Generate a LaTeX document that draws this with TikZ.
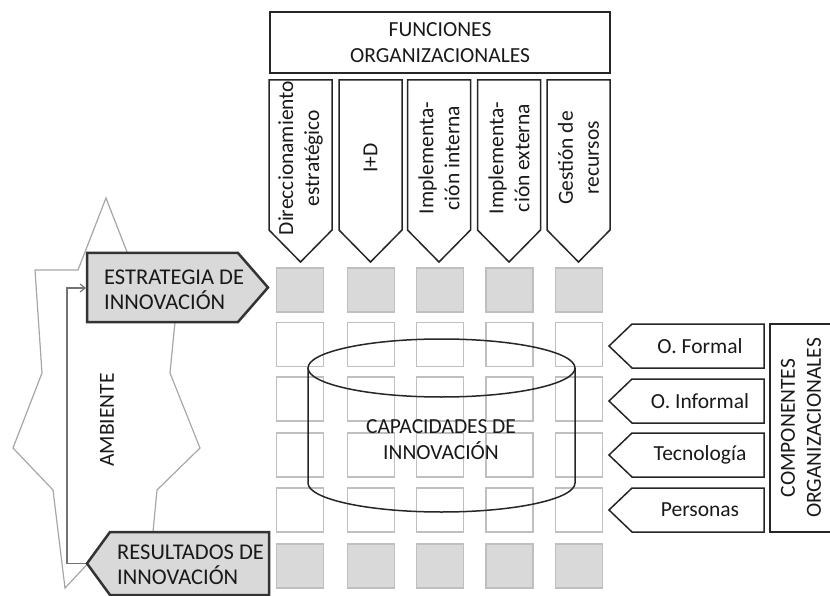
\documentclass[tikz,border=0pt]{standalone}
\usepackage{fontspec}
\setmainfont{Carlito}
\usetikzlibrary{arrows.meta}
\begin{document}
\begin{tikzpicture}[x=1pt,y=-1pt,
  every node/.style={font=\fontsize{21.5}{26}\selectfont, text=black!90, inner sep=0pt},
  big/.style={font=\fontsize{22.5}{25}\selectfont},
  blk/.style={draw=black!85, line width=1.5pt, line join=miter},
  sq/.style={draw=black!25, line width=1.5pt, fill=white},
  sqf/.style={sq, fill=black!15},
  amb/.style={draw=black!35, line width=1.2pt},
  arrowline/.style={draw=black!55, line width=1.2pt},
  lbox/.style={draw=black!80, line width=2.5pt, fill=black!15, line join=miter}]
\useasboundingbox (0,0) rectangle (830,596);

% ambiente outline
\draw[amb] (106,198) -- (78,270) -- (35,270) -- (42,373) -- (13,448) -- (53,490) -- (65,588) -- (110,540) -- (153,532) -- (157,490) -- (200,448) -- (170,373) -- (175,322) -- (127,252) -- cycle;
\node[rotate=90] (amb) at (107,420) {AMBIENTE};

% feedback arrow
\coordinate (restip) at (87,563.5);
\coordinate (c1) at (67,563.5);
\coordinate (c2) at (67,288);
\coordinate (estin) at (86,288);
\draw[arrowline, -{Straight Barb[length=5pt,width=8pt]}] (restip) -- (c1) -- (c2) -- (estin);

% left boxes
\draw[lbox] (87,253) -- (238,253) -- (268,287.5) -- (238,322) -- (87,322) -- cycle;
\node[big, align=left, anchor=west] (est) at (104,290) {ESTRATEGIA DE\\INNOVACIÓN};
\draw[lbox] (110,532) -- (269,532) -- (269,595) -- (110,595) -- (87,563.5) -- cycle;
\node[big, align=left, anchor=west] (res) at (117,565) {RESULTADOS DE\\INNOVACIÓN};

% top title
\node[blk, minimum width=340pt, minimum height=61pt, align=center] (fun) at (440,42.5) {FUNCIONES\\ORGANIZACIONALES};

% top pentagons
\foreach \x/\t [count=\i] in {300.5/{Direccionamiento\\estratégico}, 370.5/{I+D}, 439/{Implementa-\\ción interna}, 509/{Implementa-\\ción externa}, 578.5/{Gestión de\\recursos}}{
  \draw[blk, fill=white] (\x-31.5,80) -- (\x+31.5,80) -- (\x+31.5,230) -- (\x,262) -- (\x-31.5,230) -- cycle;
  \node[rotate=90, align=center] (f\i) at (\x,158) {\t};
}

% grid of squares
\foreach \x [count=\i] in {300,371,440,509.5,579}{
  \node[sqf, minimum width=47pt, minimum height=44pt] (s\i-1) at (\x,290) {};
  \foreach \y [count=\j from 2] in {344.5,399,455,510}{
    \node[sq, fill=none, minimum width=47pt, minimum height=44pt] (s\i-\j) at (\x,\y) {};
  }
  \node[sqf, minimum width=47pt, minimum height=44pt] (s\i-6) at (\x,566) {};
}

% cylinder
\draw[blk] (441.5,368) ellipse[x radius=133.5, y radius=29];
\draw[blk] (308,368) -- (308,483) arc[start angle=180, end angle=0, x radius=133.5, y radius=29] -- (575,368);
\node[align=center] (cap) at (441,440) {CAPACIDADES DE\\INNOVACIÓN};

% right pentagons
\foreach \y/\t [count=\i] in {346/{O. Formal}, 401/{O. Informal}, 455/{Tecnología}, 510/{Personas}}{
  \draw[blk, fill=white] (609,\y) -- (632,\y-22) -- (764,\y-22) -- (764,\y+22) -- (632,\y+22) -- cycle;
  \node (c\i) at (700,\y) {\t};
}

% componentes box
\draw[blk] (836,324) -- (770,324) -- (770,532) -- (836,532);
\node[rotate=90, align=center] (comp) at (801,428) {COMPONENTES\\ORGANIZACIONALES};
\end{tikzpicture}
\end{document}
